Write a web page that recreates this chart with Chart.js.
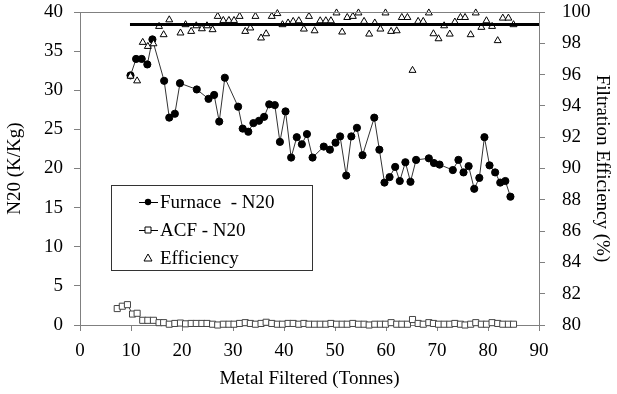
<!DOCTYPE html>
<html>
<head>
<meta charset="utf-8">
<script src="https://cdn.jsdelivr.net/npm/chart.js@4/dist/chart.umd.min.js"></script>
<style>
  body { margin: 0; background: #fff; }
  #wrap { width: 617px; height: 394px; }
</style>
</head>
<body>
<div id="wrap"><canvas id="myChart" width="617" height="394"></canvas></div>
<script>
// Furnace N20 (left axis)
const furnaceX = [9.9, 11.0, 12.1, 13.2, 14.2, 16.5, 17.5, 18.6, 19.6, 22.9, 25.2, 26.3, 27.3, 28.4, 31.0, 31.9, 33.0, 34.0, 35.1, 36.1,
  37.1, 38.2, 39.2, 40.3, 41.4, 42.5, 43.5, 44.5, 45.6, 47.8, 49.0, 50.1, 51.0, 52.2, 53.2, 54.3, 55.4, 57.7, 58.7, 59.7,
  60.7, 61.8, 62.7, 63.8, 64.8, 65.9, 68.4, 69.4, 70.5, 73.1, 74.2, 75.2, 76.2, 77.3, 78.3, 79.3, 80.3, 81.4, 82.4, 83.4, 84.4];
const furnaceN20 = [31.9, 34.0, 34.0, 33.3, 36.5, 31.2, 26.5, 27.0, 30.9, 30.1, 28.9, 29.4, 26.0, 31.6, 27.9, 25.1, 24.7, 25.8, 26.1, 26.6,
  28.2, 28.1, 23.4, 27.3, 21.4, 24.0, 23.1, 24.4, 21.4, 22.8, 22.4, 23.3, 24.1, 19.1, 24.1, 25.2, 21.7, 26.5, 22.4, 18.2,
  18.9, 20.2, 18.4, 20.8, 18.3, 21.1, 21.3, 20.7, 20.5, 19.8, 21.1, 19.5, 20.3, 17.4, 18.8, 24.0, 20.4, 19.5, 18.2, 18.4, 16.4];

// ACF N20 (left axis)
const acfX = [7.3, 8.3, 9.3, 10.3, 11.2, 12.3, 13.3, 14.4, 15.5, 16.4, 17.5, 18.6, 19.7, 20.7, 21.8, 22.8, 23.9, 24.9, 26.0, 27.0,
  28.1, 29.2, 30.2, 31.3, 32.4, 33.4, 34.4, 35.5, 36.5, 37.6, 38.7, 39.7, 40.8, 41.8, 42.9, 43.9, 44.9, 46.0, 47.1, 48.2,
  49.2, 50.3, 51.4, 52.4, 53.5, 54.6, 55.7, 56.7, 57.8, 58.9, 59.9, 61.0, 62.1, 63.1, 64.2, 65.2, 66.3, 67.3, 68.4, 69.3,
  70.3, 71.4, 72.5, 73.5, 74.6, 75.5, 76.6, 77.6, 78.7, 79.7, 80.8, 81.9, 82.9, 84.0, 85.0];
const acfN20 = [2.1, 2.4, 2.6, 1.4, 1.5, 0.6, 0.6, 0.6, 0.3, 0.3, 0.1, 0.2, 0.25, 0.15, 0.2, 0.2, 0.2, 0.2, 0.1, 0.0,
  0.1, 0.1, 0.1, 0.2, 0.3, 0.2, 0.1, 0.2, 0.35, 0.2, 0.1, 0.1, 0.2, 0.2, 0.1, 0.2, 0.1, 0.1, 0.1, 0.1,
  0.2, 0.1, 0.1, 0.1, 0.2, 0.1, 0.1, 0.0, 0.1, 0.1, 0.1, 0.3, 0.1, 0.1, 0.1, 0.7, 0.2, 0.1, 0.3, 0.2,
  0.1, 0.1, 0.1, 0.2, 0.1, 0.0, 0.1, 0.3, 0.1, 0.1, 0.3, 0.2, 0.1, 0.1, 0.1];

// Filtration efficiency % (right axis)
const effX = [9.9, 11.2, 12.3, 13.3, 14.4, 15.5, 16.4, 17.5, 19.7, 20.7, 21.8, 22.8, 23.9, 24.9, 26.0, 27.0, 28.1, 29.2, 30.2, 31.3,
  32.4, 33.4, 34.4, 35.5, 36.5, 37.6, 38.7, 39.7, 40.8, 41.8, 42.9, 43.9, 44.9, 46.0, 47.1, 48.2, 49.2, 50.3, 51.4, 52.4,
  53.5, 54.6, 55.7, 56.7, 57.8, 58.9, 59.9, 61.0, 62.1, 63.1, 64.2, 65.2, 66.3, 67.3, 68.4, 69.3, 70.3, 71.4, 72.5, 73.5,
  74.6, 75.5, 76.6, 77.6, 78.7, 79.7, 80.8, 81.9, 82.9, 84.0, 85.0];
const effPct = [95.9, 95.6, 98.06, 97.8, 97.97, 99.08, 98.55, 99.5, 98.66, 99.19, 98.76, 99.12, 98.93, 99.12, 98.87, 99.72, 99.46, 99.46, 99.46, 99.72,
  98.76, 98.98, 99.72, 98.34, 98.61, 99.72, 99.9, 99.19, 99.3, 99.4, 99.44, 98.91, 99.72, 98.8, 99.44, 99.44, 99.44, 99.94, 98.72, 99.65,
  99.72, 99.94, 99.4, 98.59, 99.3, 98.91, 99.94, 98.76, 98.8, 99.65, 99.65, 96.27, 99.4, 99.4, 99.94, 98.61, 98.29, 99.12, 98.59, 99.36,
  99.65, 99.65, 98.55, 99.94, 99.02, 99.44, 99.08, 98.17, 99.61, 99.61, 99.19];

// target line
const targetX = [9.8, 90];
const targetPct = [99.2, 99.2];

const pts = (xs, ys) => xs.map((x, i) => ({x: x, y: ys[i]}));

const serif = '"Liberation Serif", "Times New Roman", serif';
const fontSize = 19;
const axisGrey = '#808080';

const frame = {
  id: 'frame',
  afterDraw(chart) {
    const ctx = chart.ctx;
    const a = chart.chartArea;
    ctx.save();
    ctx.strokeStyle = axisGrey;
    ctx.lineWidth = 1;
    ctx.beginPath();
    ctx.moveTo(a.left, a.top + 0.5);
    ctx.lineTo(a.right, a.top + 0.5);
    ctx.stroke();

    // legend box
    const bx = a.left + 31, by = a.top + 173, bw = 201, bh = 85;
    ctx.fillStyle = '#fff';
    ctx.fillRect(bx, by, bw, bh);
    ctx.strokeStyle = '#333';
    ctx.strokeRect(bx + 0.5, by + 0.5, bw, bh);

    const rows = [
      {label: 'Furnace  - N20', mark: 'circle', line: true},
      {label: 'ACF - N20', mark: 'rect', line: true},
      {label: 'Efficiency', mark: 'triangle', line: false}
    ];
    ctx.font = fontSize + 'px ' + serif;
    ctx.textBaseline = 'middle';
    rows.forEach((r, i) => {
      const cy = by + 17 + i * 28;
      const cx = bx + 37;
      ctx.strokeStyle = '#000';
      ctx.lineWidth = 1;
      if (r.line) {
        ctx.beginPath();
        ctx.moveTo(bx + 28, cy + 0.5);
        ctx.lineTo(bx + 47, cy + 0.5);
        ctx.stroke();
      }
      ctx.beginPath();
      if (r.mark === 'circle') {
        ctx.arc(cx, cy, 3.2, 0, Math.PI * 2);
        ctx.fillStyle = '#000';
        ctx.fill();
      } else if (r.mark === 'rect') {
        ctx.rect(cx - 3, cy - 3, 6, 6);
        ctx.fillStyle = '#fff';
        ctx.fill();
        ctx.stroke();
      } else {
        ctx.moveTo(cx, cy - 4);
        ctx.lineTo(cx + 4, cy + 3);
        ctx.lineTo(cx - 4, cy + 3);
        ctx.closePath();
        ctx.fillStyle = '#fff';
        ctx.fill();
        ctx.stroke();
      }
      ctx.fillStyle = '#000';
      ctx.fillText(r.label, bx + 49, cy + 1);
    });
    ctx.restore();
  }
};

// fix axis box sizes so the plot area sits where it does in the original
const fitV = (w) => (s) => { s.width = w; s.paddingTop = 0; s.paddingBottom = 0; };
const fitH = (h) => (s) => { s.height = h; s.paddingLeft = 0; s.paddingRight = 0; };

const ctx = document.getElementById('myChart');
const myChart = new Chart(ctx, {
  type: 'scatter',
  data: {
    datasets: [
      {
        label: 'Target',
        data: pts(targetX, targetPct),
        yAxisID: 'y2',
        showLine: true,
        borderColor: '#000',
        borderWidth: 3,
        pointRadius: 0,
        clip: false
      },
      {
        label: 'Efficiency',
        data: pts(effX, effPct),
        yAxisID: 'y2',
        showLine: false,
        pointStyle: 'triangle',
        pointRadius: 4,
        backgroundColor: '#fff',
        borderColor: '#000',
        pointBorderWidth: 1,
        clip: false
      },
      {
        label: 'ACF - N20',
        data: pts(acfX, acfN20),
        yAxisID: 'y',
        showLine: true,
        borderColor: '#444',
        borderWidth: 1,
        pointStyle: 'rect',
        pointRadius: 4.3,
        backgroundColor: '#fff',
        pointBorderWidth: 1,
        clip: false
      },
      {
        label: 'Furnace - N20',
        data: pts(furnaceX, furnaceN20),
        yAxisID: 'y',
        showLine: true,
        borderColor: '#333',
        borderWidth: 1,
        pointStyle: 'circle',
        pointRadius: 3.6,
        backgroundColor: '#000',
        pointBorderColor: '#000',
        clip: false
      }
    ]
  },
  options: {
    responsive: false,
    animation: false,
    devicePixelRatio: 1,
    layout: { padding: { top: 12, left: 0, right: 0, bottom: 0 } },
    plugins: {
      legend: { display: false },
      tooltip: { enabled: false }
    },
    scales: {
      x: {
        type: 'linear',
        min: 0,
        max: 90,
        ticks: { stepSize: 10, color: '#000', font: { family: serif, size: fontSize }, padding: 9 },
        grid: { drawOnChartArea: false, tickLength: 6, color: axisGrey },
        border: { color: axisGrey },
        title: { display: true, text: 'Metal Filtered (Tonnes)', color: '#000', font: { family: serif, size: fontSize }, padding: 4 },
        afterFit: fitH(69)
      },
      y: {
        position: 'left',
        min: 0,
        max: 40,
        ticks: { stepSize: 5, color: '#000', font: { family: serif, size: fontSize }, padding: 11 },
        grid: { drawOnChartArea: false, tickLength: 6, color: axisGrey },
        border: { color: axisGrey },
        title: { display: true, text: 'N20 (K/Kg)', color: '#000', font: { family: serif, size: fontSize }, padding: 4 },
        afterFit: fitV(80)
      },
      y2: {
        position: 'right',
        min: 80,
        max: 100,
        ticks: { stepSize: 2, color: '#000', font: { family: serif, size: fontSize }, padding: 17 },
        grid: { drawOnChartArea: false, tickLength: 6, color: axisGrey },
        border: { color: axisGrey },
        title: { display: true, text: 'Filtration Efficiency (%)', color: '#000', font: { family: serif, size: fontSize }, padding: 4 },
        afterFit: fitV(78)
      }
    }
  },
  plugins: [frame]
});
</script>
</body>
</html>
